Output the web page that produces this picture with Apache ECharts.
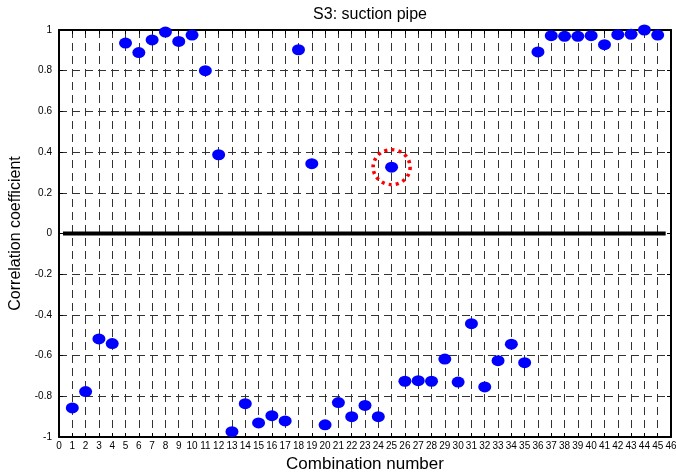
<!DOCTYPE html>
<html>
<head>
<meta charset="utf-8">
<script src="https://cdn.jsdelivr.net/npm/echarts@6/dist/echarts.min.js"></script>
<style>
html, body { margin: 0; padding: 0; background: #fff; }
#chart { width: 676px; height: 475px; }
</style>
</head>
<body>
<div id="chart"></div>
<script>
// combination number 1..45 and correlation coefficient
const combos = [1, 2, 3, 4, 5, 6, 7, 8, 9, 10, 11, 12, 13, 14, 15, 16, 17, 18, 19, 20, 21, 22, 23,
    24, 25, 26, 27, 28, 29, 30, 31, 32, 33, 34, 35, 36, 37, 38, 39, 40, 41, 42, 43, 44, 45];
const corr = [-0.857, -0.777, -0.518, -0.541, 0.936, 0.889, 0.951, 0.990, 0.944, 0.975,
    0.800, 0.387, -0.974, -0.836, -0.931, -0.895, -0.921, 0.903, 0.343, -0.940,
    -0.831, -0.900, -0.845, -0.900, 0.326, -0.726, -0.723, -0.726, -0.617, -0.730,
    -0.443, -0.754, -0.625, -0.544, -0.635, 0.892, 0.972, 0.969, 0.969, 0.972,
    0.928, 0.977, 0.979, 1.000, 0.975];
// the circled point
const highlight = [[25, 0.326]];
// thick zero line ends
const zeroLine = [[0.3, 0], [45.6, 0]];

const font = 'Liberation Sans, Arial, sans-serif';

let myChart = echarts.init(document.getElementById('chart'));

let gridDash = {
    show: true,
    lineStyle: { color: '#333', width: 1, type: [8, 5] }
};

myChart.setOption({
    animation: false,
    title: {
        text: 'S3: suction pipe',
        left: 365,
        textAlign: 'center',
        top: 2,
        textStyle: { fontFamily: font, fontSize: 16, fontWeight: 'normal', color: '#000' }
    },
    grid: { left: 59, right: 5, top: 30, bottom: 38, outerBoundsMode: 'none' },
    xAxis: [
        {
            type: 'value',
            min: 0,
            max: 46,
            interval: 1,
            name: 'Combination number',
            nameLocation: 'middle',
            nameGap: 17,
            nameTextStyle: { fontFamily: font, fontSize: 17, color: '#000' },
            axisLine: { show: true, onZero: false, lineStyle: { color: '#000', width: 2 } },
            axisTick: { inside: true, length: 4, lineStyle: { color: '#000' } },
            axisLabel: { fontFamily: font, fontSize: 10, color: '#000', margin: 4 },
            splitLine: gridDash
        },
        {
            type: 'value',
            position: 'top',
            min: 0,
            max: 46,
            interval: 1,
            axisLine: { show: true, onZero: false, lineStyle: { color: '#000', width: 2 } },
            axisTick: { inside: true, length: 4, lineStyle: { color: '#000' } },
            axisLabel: { show: false },
            splitLine: { show: false }
        }
    ],
    yAxis: [
        {
            type: 'value',
            min: -1,
            max: 1,
            interval: 0.2,
            name: 'Correlation coefficient',
            nameLocation: 'middle',
            nameGap: 28,
            nameTextStyle: { fontFamily: font, fontSize: 16, color: '#000' },
            axisLine: { show: true, onZero: false, lineStyle: { color: '#000', width: 2 } },
            axisTick: { inside: true, length: 4, lineStyle: { color: '#000' } },
            axisLabel: {
                fontFamily: font, fontSize: 10, color: '#000', margin: 7,
                formatter: v => String(Math.round(v * 10) / 10)
            },
            splitLine: gridDash
        },
        {
            type: 'value',
            position: 'right',
            min: -1,
            max: 1,
            interval: 0.2,
            axisLine: { show: true, onZero: false, lineStyle: { color: '#000', width: 2 } },
            axisTick: { inside: true, length: 4, lineStyle: { color: '#000' } },
            axisLabel: { show: false },
            splitLine: { show: false }
        }
    ],
    series: [
        {
            name: 'zero',
            type: 'line',
            data: zeroLine,
            symbol: 'none',
            lineStyle: { color: '#000', width: 4 },
            z: 3
        },
        {
            name: 'corr',
            type: 'scatter',
            data: combos.map((c, i) => [c, corr[i]]),
            symbol: 'circle',
            symbolSize: [13, 11],
            itemStyle: { color: '#0000ff', opacity: 1 },
            z: 4
        },
        {
            name: 'mark',
            type: 'scatter',
            data: highlight,
            symbol: 'circle',
            symbolSize: [37, 35],
            itemStyle: {
                color: 'transparent',
                borderColor: '#ff0000',
                borderWidth: 3.5,
                borderType: [3, 4],
                opacity: 1
            },
            z: 5
        }
    ]
});
</script>
</body>
</html>
